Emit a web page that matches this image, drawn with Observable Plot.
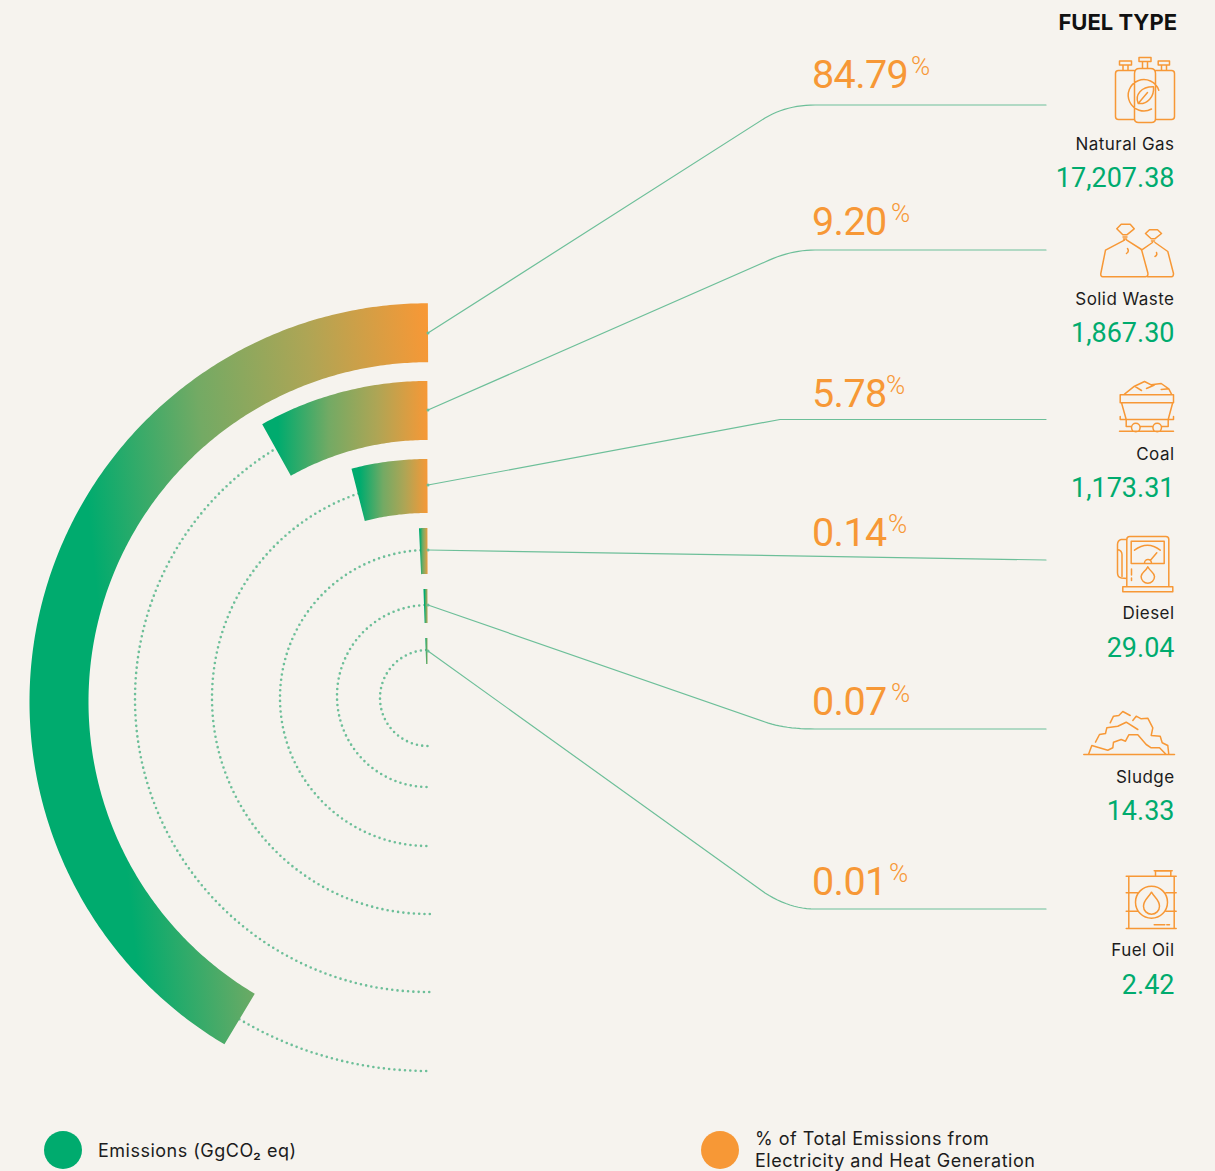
<!DOCTYPE html>
<html><head><meta charset="utf-8">
<style>html,body{margin:0;padding:0;background:#f6f3ee;overflow:hidden}svg{display:block}</style>
<script src="https://cdn.jsdelivr.net/npm/d3@7"></script>
<script src="https://cdn.jsdelivr.net/npm/@observablehq/plot@0.6"></script>
</head><body><div id="chart"></div>
<script>
// ---- data
const fuels = ["Natural Gas","Solid Waste","Coal","Diesel","Sludge","Fuel Oil"];
const emissions = ["17,207.38","1,867.30","1,173.31","29.04","14.33","2.42"];
const shares = ["84.79","9.20","5.78","0.14","0.07","0.01"];
const sweepDeg = [149.3,29.3,14.5,2.9,2.2,2.2];
// ---- layout
const barRadius = [369,308.5,277,147.5,90.5,47.5];
const barCenterY = [701.75,719,763,698.5,696.5,698.5];
const barCenterX = [428,427.5,427.5,427.5,427.5,427.5];
const barWidth = [59,59,54,46,34,26];
const dotRadius = [369.4,293,216,148,91,48];
const dotCenterY = [701.6,699,698,698,696,698];
const dotStartDeg = [149.3,31,18.8,2.9,2.2,2.2];
const gradFrom = [[90,528],[278,440],[360,490],[420,550],[424.5,606],[425,651]];
const gradTo = [[445,490],[428,440],[428,490],[428,550],[429,606],[431,651]];
const gradStops = [[0,"#00ab6e"],[0.34,"#73aa64"],[0.66,"#aea555"],[1,"#f79836"]];
const centerX = 428;
const shareX = [812,812,812,812,812,812];
const shareBase = [88,235,407,546,715,895];
const pctX = [911,891,886,888,891,889];
const labelBase = [149.5,304.5,459.5,618.5,782.5,955.5];
const valueBase = [187,342,497,657,820,994];
const connectors = [
  [[428,333],[765,118],[787,105],[815,105],[1046,105]],
  [[428,410],[765,262],[790,250],[815,250],[1046,250]],
  [[428,485],[780,419.5],[780,419.5],[780,419.5],[1046,419.5]],
  [[428,550],[1046,560],[1046,560],[1046,560],[1046,560]],
  [[428,605],[765,722],[785,729],[815,729],[1046,729]],
  [[428,651],[765,893],[790,909],[815,909],[1046,909]]
];
const GREEN="#00ab6e", ORANGE="#f79836", LINE="#6dbf99", BG="#f6f3ee", INK="#1c1c1c";
const SANS="Roboto, 'Noto Sans', sans-serif";
const LABEL="Inter, Roboto, sans-serif";

function arc(cx, cy, r, from, to){
  const pts=[]; const n=Math.max(2,Math.ceil(Math.abs(to-from)*2));
  for(let k=0;k<=n;k++){
    const t=(from+(to-from)*k/n)*Math.PI/180;
    pts.push({x:cx-r*Math.sin(t), y:cy-r*Math.cos(t)});
  }
  return pts;
}
function bend(c){
  const [a,b,q,d,e]=c, pts=[{x:a[0],y:a[1]}];
  for(let k=0;k<=12;k++){const t=k/12,u=1-t;
    pts.push({x:u*u*b[0]+2*u*t*q[0]+t*t*d[0], y:u*u*b[1]+2*u*t*q[1]+t*t*d[1]});}
  pts.push({x:e[0],y:e[1]});
  return pts;
}
const icons = [
 // natural gas
 "M1135 120H1119a3 3 0 0 1-3-3V74a3 3 0 0 1 3-3H1135 M1135 74q0-5 5-5h11q5 0 5 5V119q0 4-4 4H1139q-4 0-4-4Z M1156 71H1172a3 3 0 0 1 3 3V117a3 3 0 0 1-3 3H1156 M1120 61.5h12v4h-12z M1123.5 65.5v5 M1128.5 65.5v5 M1139.5 58h12v4h-12z M1143 62v7 M1148 62v7 M1158.7 61.5h11.3v4h-11.3z M1162 65.5v5 M1167 65.5v5 M1159.3 90.7A15.7 15.7 0 1 0 1152 109.5 M1138.7 104C1135 95 1142 87 1154 87.3C1155 97 1148 105 1138.7 104Z M1138.7 104L1148 93",
 // solid waste
 "M1125 240.7L1106 250.7L1101.3 274Q1101 277.3 1103.3 277.3H1146Q1149 277 1148.3 273.3L1142 250L1127.3 240.7 M1142 250.7L1153 243 M1155.5 243L1168.3 252L1174 274Q1174 277.3 1172 277.3H1148 M1117.3 229.3L1121.7 224.7H1130.7L1134.7 229.3L1127.3 235.3H1123.3Z M1123.5 237.5h4 M1124 239.5h3 M1146 234L1150 230.3H1158L1162 234L1155.3 239.3H1151.7Z M1152 241.5h3 M1128 249q2 3-1 5 M1157 253q1 3-1.5 4",
 // coal
 "M1125 394.7L1135 386.7L1145 382L1151.7 385.3L1161.7 384L1169.3 389.3L1172 394.7 M1135 386.7L1142 391 M1147 389L1155 385.5 M1161.7 390L1169.3 389.3 M1120.7 395.3H1174V403.3H1120.7Z M1122 403.3L1126.7 420V427H1132 M1173 404L1168.7 420V427H1162 M1126.7 420H1168.7 M1140.7 427H1153.3 M1120.7 417V420H1126.7 M1174 417V420H1168.7 M1120 431.7H1174 M1140.6 428a4.3 4.3 0 1 1-8.6 0a4.3 4.3 0 1 1 8.6 0 M1162 428a4.3 4.3 0 1 1-8.6 0a4.3 4.3 0 1 1 8.6 0",
 // diesel
 "M1127.3 587.3V540a3 3 0 0 1 3-3H1166.3a3 3 0 0 1 3 3V587.3 M1123.3 587.3H1173.3V592.3H1123.3Z M1131.7 541.7H1164.7V564H1131.7Z M1135 550.7Q1148 541 1160.7 550.7 M1151 560.7L1157.3 553.3 M1145 563.5a3.5 3.5 0 0 1 7 0 M1148.3 567.3C1146 572 1141.6 573 1141.6 577a6.7 6.7 0 0 0 13.4 0C1155 573 1150.5 572 1148.3 567.3Z M1127.3 540H1121.7Q1118 541 1118 545V573.3Q1118 578 1122 578.5L1127.3 579 M1118 550Q1122.5 551 1122.5 555V577 M1132 569.5v6 M1132 578.5v2.5",
 // sludge
 "M1084.3 755H1175 M1089 755L1092.3 746L1108.3 750.7L1113.3 748.3L1114 742.7L1121.7 740L1126 741.7L1129.3 735.3H1138.3L1146.7 745L1151.7 748.3H1160L1166.7 755 M1096 742.7L1100 735L1106 734L1107.3 728.3L1118.3 726.7L1126.7 722.7L1138.3 730 M1110.7 723.3L1114 716.7L1119.3 716L1123.3 712L1130.7 716 M1133.3 721L1136.7 716.7L1141.7 719.3L1148.3 718.7L1153.3 728.3L1151.7 736L1160.7 736.7L1162.7 743.3L1168.3 746L1169.3 755",
 // fuel oil
 "M1126.7 876.7H1176.7 M1126.7 929H1176.7 M1129.3 876.7V929 M1174.7 876.7V929 M1156 876.7V871.5H1171.3V876.7 M1154.7 871.3H1172.7 M1126.7 893.3H1138 M1166.5 893.3H1176.7 M1126.7 911.7H1138 M1166.5 911.7H1176.7 M1168 902.7a16 16 0 1 1-32 0a16 16 0 1 1 32 0 M1152 892.7C1149 898 1144 900.5 1144 906.7a8 8 0 0 0 16 0C1160 900.5 1155 898 1152 892.7Z M1154.7 925.3H1165.3 M1167.3 925.3H1170"
];

const defs = (index, {x, y}) => {
  const d = d3.create("svg:defs");
  gradFrom.forEach((s,i)=>{
    const g=d.append("linearGradient").attr("id","bar"+i).attr("gradientUnits","userSpaceOnUse")
      .attr("x1",x(s[0])).attr("y1",y(s[1])).attr("x2",x(gradTo[i][0])).attr("y2",y(gradTo[i][1]));
    gradStops.forEach(([o,c])=>g.append("stop").attr("offset",o).attr("stop-color",c));
  });
  return d.node();
};
const iconMark = (index, {x, y}) => {
  const g = d3.create("svg:g").attr("transform",`translate(${x(0)},${y(0)})`)
    .attr("fill","none").attr("stroke",ORANGE).attr("stroke-width",1.5).attr("stroke-linejoin","round").attr("stroke-linecap","round");
  icons.forEach(p=>g.append("path").attr("d",p));
  return g.node();
};

const idx = d3.range(fuels.length);
const marks = [defs];
idx.forEach(i=>{
  marks.push(Plot.line(arc(centerX, dotCenterY[i], dotRadius[i], dotStartDeg[i], 180+Math.asin(2/dotRadius[i])*180/Math.PI),
    {x:"x",y:"y",stroke:LINE,strokeWidth:2.6,strokeDasharray:"0 5.3",strokeLinecap:"round",curve:"linear"}));
});
idx.forEach(i=>{
  marks.push(Plot.line(arc(barCenterX[i], barCenterY[i], barRadius[i], 0, sweepDeg[i]),
    {x:"x",y:"y",stroke:`url(#bar${i})`,strokeWidth:barWidth[i],strokeLinecap:"butt",strokeLinejoin:"round",curve:"linear"}));
});
idx.forEach(i=>{
  marks.push(Plot.line(bend(connectors[i]),{x:"x",y:"y",stroke:LINE,strokeWidth:1.2,curve:"linear"}));
  marks.push(Plot.dot([connectors[i][0]],{x:d=>d[0],y:d=>d[1],r:1.5,fill:LINE}));
});
const spaced = (px) => (index, scales, values, dims, context, next) => {
  const g = next(index, scales, values, dims, context);
  g.style.letterSpacing = px + "px";
  return g;
};
const txt = (rows, o, px=0) => Plot.text(rows, {x:"x",y:"y",text:"t",lineAnchor:"bottom",render:spaced(px),...o});
marks.push(
  txt(idx.map(i=>({x:shareX[i],y:shareBase[i],t:shares[i]})),{textAnchor:"start",fill:ORANGE,fontSize:39.5,fontWeight:400,fontFamily:SANS},-0.6),
  txt(idx.map(i=>({x:pctX[i],y:shareBase[i]-13,t:"%"})),{textAnchor:"start",fill:ORANGE,fontSize:26,fontWeight:300,fontFamily:SANS}),
  txt(idx.map(i=>({x:1174.5,y:labelBase[i],t:fuels[i]})),{textAnchor:"end",fill:INK,fontSize:17,fontWeight:400,fontFamily:LABEL},0.45),
  txt(idx.map(i=>({x:1174.5,y:valueBase[i],t:emissions[i]})),{textAnchor:"end",fill:GREEN,fontSize:27,fontWeight:400,fontFamily:SANS}),
  txt([{x:1177,y:29.5,t:"FUEL TYPE"}],{textAnchor:"end",fill:"#111",fontSize:22,fontWeight:700,fontFamily:LABEL}),
  iconMark,
  Plot.dot([{x:63,y:1150,c:GREEN},{x:720,y:1150,c:ORANGE}],{x:"x",y:"y",r:19,fill:"c",stroke:null}),
  txt([{x:98,y:1156.5,t:"Emissions (GgCO₂ eq)"},{x:755,y:1144.5,t:"% of Total Emissions from"},{x:755,y:1167,t:"Electricity and Heat Generation"}],
    {textAnchor:"start",fill:INK,fontSize:18,fontWeight:400,fontFamily:LABEL},0.5)
);

const plot = Plot.plot({
  width:1215,height:1171,margin:0,
  x:{domain:[0,1215],range:[-0.5,1214.5],axis:null},
  y:{domain:[0,1171],range:[-0.5,1170.5],axis:null},
  color:{type:"identity"},
  style:{background:BG,overflow:"visible"},
  marks
});
document.getElementById("chart").append(plot);
</script>
</body></html>
